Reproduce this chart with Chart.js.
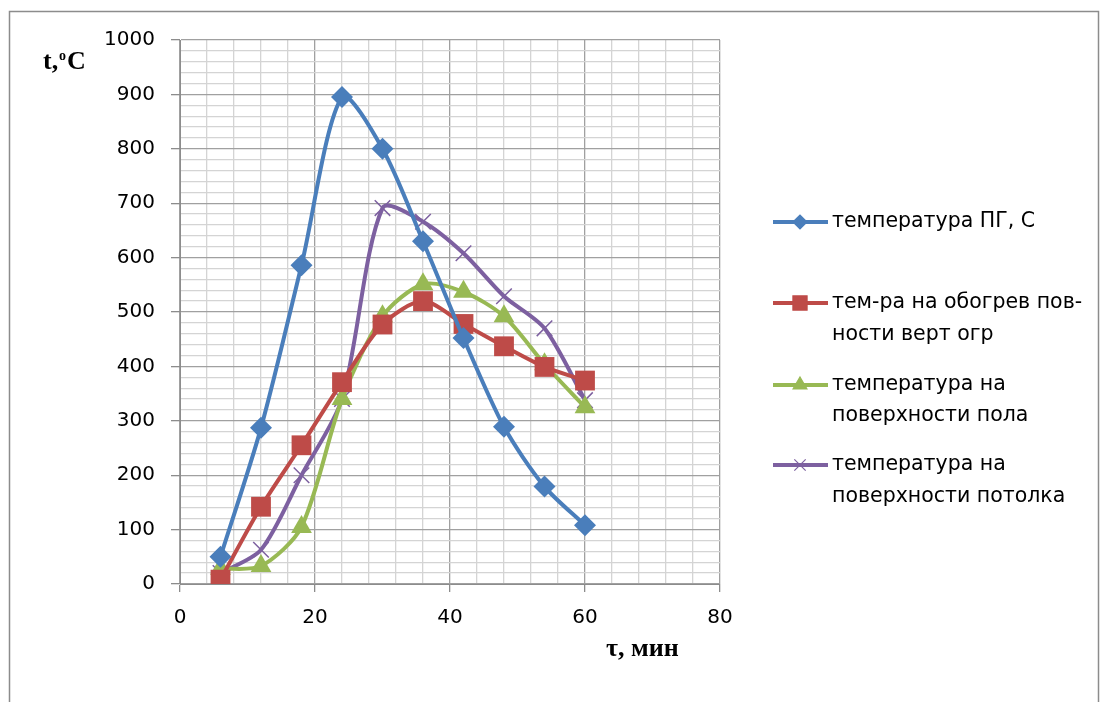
<!DOCTYPE html>
<html>
<head>
<meta charset="utf-8">
<script src="https://cdn.jsdelivr.net/npm/chart.js@4.4.1/dist/chart.umd.min.js"></script>
<style>
  html, body { margin: 0; padding: 0; background: #fff; }
  #wrap { position: relative; width: 1108px; height: 702px; }
</style>
</head>
<body>
<div id="wrap"><canvas id="chart" width="1108" height="702"></canvas></div>
<script>
// Time, min
var minutes     = [6, 12, 18, 24, 30, 36, 42, 48, 54, 60];
// Series values, °C
var gasTemp     = [50, 287, 586, 895, 800, 630, 452, 289, 179, 108];
var wallTemp    = [8, 142, 255, 371, 477, 520, 478, 437, 399, 374];
var floorTemp   = [28, 33, 105, 340, 492, 551, 537, 492, 404, 325];
var ceilingTemp = [20, 63, 200, 340, 691, 666, 608, 529, 470, 338];

var seriesNames = [
  ['температура ПГ, С'],
  ['тем-ра на обогрев пов-', 'ности верт огр'],
  ['температура на', 'поверхности пола'],
  ['температура на', 'поверхности потолка']
];

var TICK_FONT = { family: '"DejaVu Sans", sans-serif', size: 20 };

function pts(ys) {
  return minutes.map(function (m, i) { return { x: m, y: ys[i] }; });
}

function series(idx, ys, color, style, radius, legendRadius) {
  return {
    label: seriesNames[idx].join(' '),
    data: pts(ys),
    borderColor: color,
    backgroundColor: color,
    borderWidth: 4,
    tension: 0.28,
    pointStyle: style,
    pointRadius: radius,
    pointBorderWidth: style === 'crossRot' ? 1.5 : 0,
    pointBorderColor: color,
    pointBackgroundColor: color,
    legendRadius: legendRadius
  };
}

// frame, axis titles and wrapped legend
var decor = {
  id: 'decor',
  beforeDraw: function (chart) {
    var c = chart.ctx;
    c.save();
    c.fillStyle = '#fff';
    c.fillRect(0, 0, chart.width, chart.height);
    c.strokeStyle = '#8c8c8c';
    c.lineWidth = 1.5;
    c.strokeRect(9.5, 11.5, 1089, 700);
    c.restore();
  },
  afterDraw: function (chart) {
    var c = chart.ctx;
    c.save();
    c.fillStyle = '#000';
    c.textBaseline = 'alphabetic';
    c.textAlign = 'left';
    c.font = 'bold 26px "Liberation Serif", serif';
    c.fillText('t,', 43, 69);
    c.font = 'bold 14px "Liberation Serif", serif';
    c.fillText('o', 59, 60);
    c.font = 'bold 26px "Liberation Serif", serif';
    c.fillText('C', 67, 69);
    c.font = 'bold 26px "Liberation Serif", serif';
    c.fillText('τ, мин', 606, 656);

    var rows = [[222], [303, 335], [385, 416], [465, 497]];
    var ds = chart.data.datasets;
    c.textBaseline = 'middle';
    c.font = '20.5px "DejaVu Sans", sans-serif';
    for (var i = 0; i < ds.length; i++) {
      var y = rows[i][0];
      c.strokeStyle = ds[i].borderColor;
      c.lineWidth = ds[i].borderWidth;
      c.beginPath();
      c.moveTo(773, y);
      c.lineTo(828, y);
      c.stroke();
      c.fillStyle = ds[i].borderColor;
      c.lineWidth = 1.2;
      Chart.helpers.drawPoint(c, { pointStyle: ds[i].pointStyle, radius: ds[i].legendRadius, rotation: 0, borderWidth: 1.2 }, 800, y);
      c.fillStyle = '#000';
      for (var j = 0; j < rows[i].length; j++) {
        c.fillText(seriesNames[i][j], 832, rows[i][j]);
      }
    }
    c.restore();
  }
};

function majorColor(step, major, minor) {
  return function (ctx) { return ctx.tick && ctx.tick.value % step === 0 ? major : minor; };
}

new Chart(document.getElementById('chart'), {
  type: 'line',
  data: {
    datasets: [
      series(0, gasTemp, '#4A7EBB', 'rectRot', 11, 7),
      series(1, wallTemp, '#BE4B48', 'rect', 14, 10),
      series(2, floorTemp, '#98B954', 'triangle', 12, 8),
      series(3, ceilingTemp, '#7D60A0', 'crossRot', 11, 8)
    ]
  },
  options: {
    responsive: false,
    animation: false,
    layout: { padding: { left: 0, right: 388, top: 40, bottom: 0 } },
    plugins: { legend: { display: false }, tooltip: { enabled: false } },
    scales: {
      x: {
        type: 'linear',
        min: 0, max: 80,
        afterFit: function (s) { s.height = 118; },
        border: { color: '#8c8c8c', width: 1 },
        grid: {
          color: majorColor(20, '#a0a0a0', '#d4d4d4'),
          tickColor: majorColor(20, '#8c8c8c', 'rgba(0,0,0,0)'),
          tickLength: 8,
          lineWidth: 1.3
        },
        ticks: {
          stepSize: 4,
          autoSkip: false,
          maxRotation: 0,
          padding: 14,
          color: '#000',
          font: TICK_FONT,
          callback: function (v) { return v % 20 === 0 ? v : ''; }
        }
      },
      y: {
        min: 0, max: 1000,
        afterFit: function (s) { s.width = 180; },
        border: { color: '#8c8c8c', width: 1 },
        grid: {
          color: majorColor(100, '#a0a0a0', '#d4d4d4'),
          tickColor: majorColor(100, '#8c8c8c', 'rgba(0,0,0,0)'),
          tickLength: 9,
          lineWidth: 1.3
        },
        ticks: {
          stepSize: 20,
          autoSkip: false,
          padding: 16,
          color: '#000',
          font: TICK_FONT,
          callback: function (v) { return v % 100 === 0 ? v : ''; }
        }
      }
    }
  },
  plugins: [decor]
});
</script>
</body>
</html>
